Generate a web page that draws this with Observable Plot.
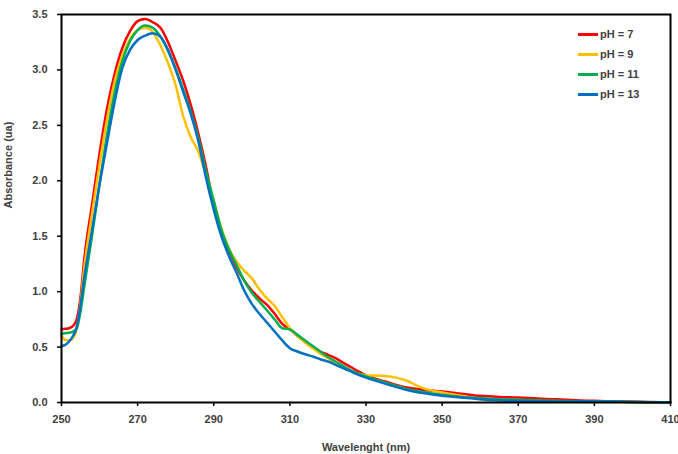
<!DOCTYPE html>
<html><head><meta charset="utf-8">
<script src="https://cdn.jsdelivr.net/npm/d3@7"></script>
<script src="https://cdn.jsdelivr.net/npm/@observablehq/plot@0.6"></script>
<style>
body{margin:0;background:#fff;}
#wrap{position:relative;width:678px;height:454px;}
#legend{position:absolute;left:578px;top:24px;font:bold 11px "Liberation Sans",Arial,sans-serif;color:#404040;}
.row{height:20px;display:flex;align-items:center;}
.sw{width:20px;height:3px;margin-right:2px;}
</style></head><body><div id="wrap"><div id="chart"></div><div id="legend"></div></div>
<script>
const wavelengths=[250,251,252,253,254,255,256,258,260,262,264,266,268,270,272,274,276,278,280,282,284,286,288,290,292,294,296,298,300,302,304,306,308,310,312,314,316,318,320,322,324,326,328,330,335,340,345,350,355,360,365,370,375,380,385,390,395,400,405,410];
const pH7=[0.66,0.665,0.67,0.69,0.75,0.95,1.30,1.78,2.25,2.66,2.97,3.20,3.35,3.44,3.46,3.43,3.38,3.25,3.08,2.90,2.68,2.42,2.12,1.78,1.52,1.37,1.22,1.10,1.01,0.94,0.88,0.80,0.71,0.66,0.60,0.55,0.50,0.46,0.43,0.40,0.36,0.32,0.28,0.245,0.19,0.14,0.115,0.10,0.08,0.06,0.05,0.045,0.035,0.03,0.02,0.015,0.01,0.008,0.004,0];
const pH9=[0.60,0.565,0.56,0.58,0.66,0.90,1.22,1.70,2.15,2.56,2.90,3.13,3.28,3.36,3.38,3.34,3.22,3.06,2.86,2.58,2.39,2.26,2.05,1.82,1.57,1.39,1.27,1.19,1.12,1.02,0.94,0.87,0.77,0.67,0.60,0.54,0.49,0.44,0.40,0.36,0.32,0.285,0.26,0.245,0.24,0.205,0.13,0.09,0.06,0.03,0.015,0.01,0.008,0.008,0.006,0.005,0.004,0.004,0.002,0];
const pH11=[0.62,0.625,0.63,0.64,0.67,0.82,1.05,1.50,1.97,2.42,2.80,3.08,3.26,3.36,3.40,3.38,3.30,3.17,3.01,2.82,2.62,2.38,2.08,1.82,1.56,1.38,1.24,1.10,0.99,0.91,0.83,0.75,0.67,0.66,0.61,0.56,0.51,0.46,0.41,0.37,0.33,0.29,0.26,0.235,0.18,0.13,0.095,0.07,0.05,0.04,0.03,0.025,0.02,0.015,0.012,0.01,0.008,0.005,0.003,0];
const pH13=[0.51,0.52,0.55,0.60,0.68,0.88,1.13,1.55,1.97,2.35,2.72,3.02,3.18,3.27,3.31,3.33,3.30,3.18,3.00,2.80,2.60,2.35,2.02,1.74,1.50,1.32,1.17,1.01,0.89,0.80,0.72,0.64,0.56,0.49,0.46,0.435,0.415,0.39,0.37,0.34,0.31,0.28,0.25,0.225,0.17,0.12,0.085,0.06,0.045,0.03,0.02,0.015,0.012,0.01,0.01,0.012,0.008,0.005,0.003,0];
const seriesNames=["pH = 7","pH = 9","pH = 11","pH = 13"];
const seriesColors=["#FF0000","#FFC000","#00B050","#0070C0"];
const xTicks=[250,270,290,310,330,350,370,390,410];
const yTicks=[0,0.5,1,1.5,2,2.5,3,3.5];
const xTitle="Wavelenght (nm)";
const yTitle="Absorbance (ua)";

const values=[pH7,pH9,pH11,pH13];
const data=seriesNames.flatMap((name,i)=>wavelengths.map((w,j)=>({series:name,wavelength:w,absorbance:values[i][j]})));

const font="Liberation Sans, Arial, sans-serif";
const chart=Plot.plot({
  width:678,height:454,marginLeft:61,marginRight:8,marginTop:14,marginBottom:52,
  style:{fontFamily:font,fontSize:"11px",fontWeight:"bold",color:"#404040",background:"white"},
  x:{domain:[250,410]},
  y:{domain:[0,3.5]},
  color:{domain:seriesNames,range:seriesColors},
  marks:[
    Plot.axisX({ticks:xTicks,tickSize:4,tickPadding:9,tickFormat:d=>String(d),label:null,stroke:"black",strokeWidth:1.5}),
    Plot.axisY({ticks:yTicks,tickSize:4,tickPadding:10,tickFormat:d3.format(".1f"),label:null,stroke:"black",strokeWidth:1.5}),
    Plot.line(data,{x:"wavelength",y:"absorbance",z:"series",stroke:"series",strokeWidth:2.5,curve:"monotone-x"}),
    Plot.frame({stroke:"black",strokeWidth:2}),
    Plot.text([xTitle],{text:d=>d,frameAnchor:"bottom",dy:45,lineAnchor:"middle",fontWeight:"bold",fontSize:11,fill:"#404040"}),
    Plot.text([yTitle],{text:d=>d,frameAnchor:"left",dx:-53,rotate:-90,lineAnchor:"middle",fontWeight:"bold",fontSize:11,fill:"#404040"})
  ]
});
document.getElementById("chart").appendChild(chart);

const legend=d3.select("#legend");
seriesNames.forEach((name,i)=>{
  const row=legend.append("div").attr("class","row");
  row.append("div").attr("class","sw").style("background",seriesColors[i]);
  row.append("span").text(name);
});
</script></body></html>
